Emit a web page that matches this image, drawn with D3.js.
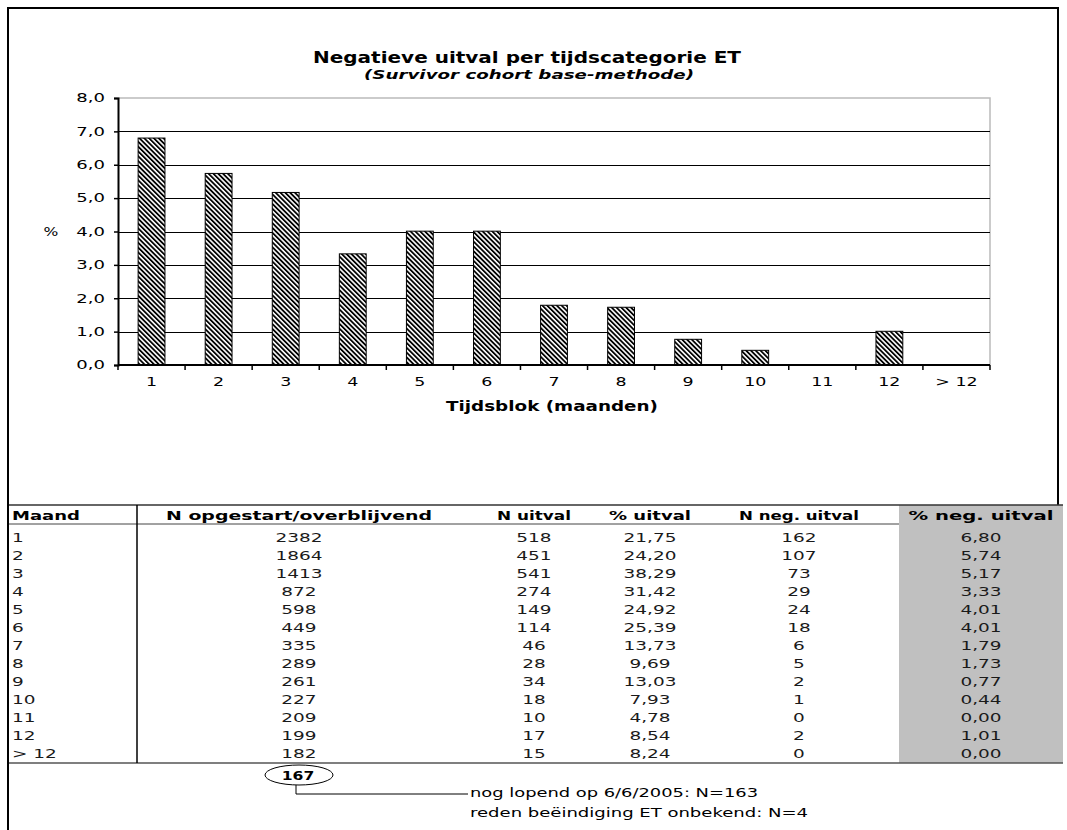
<!DOCTYPE html>
<html><head><meta charset="utf-8">
<script src="https://cdn.jsdelivr.net/npm/d3@7"></script>
<style>body{margin:0;background:#fff;} svg{display:block;font-family:"DejaVu Sans",sans-serif;}</style>
</head><body>
<script>
const months = ["1","2","3","4","5","6","7","8","9","10","11","12","> 12"];
const nStart = [2382,1864,1413,872,598,449,335,289,261,227,209,199,182];
const nUitval = [518,451,541,274,149,114,46,28,34,18,10,17,15];
const pctUitval = ["21,75","24,20","38,29","31,42","24,92","25,39","13,73","9,69","13,03","7,93","4,78","8,54","8,24"];
const nNeg = [162,107,73,29,24,18,6,5,2,1,0,2,0];
const pctNeg = [6.80,5.74,5.17,3.33,4.01,4.01,1.79,1.73,0.77,0.44,0.00,1.01,0.00];
const yTicks = [0,1,2,3,4,5,6,7,8];
const headers = ["Maand","N opgestart/overblijvend","N uitval","% uitval","N neg. uitval","% neg. uitval"];

const W=1067,H=830;
const svg=d3.select("body").append("svg").attr("width",W).attr("height",H);
const defs=svg.append("defs");
const pat=defs.append("pattern").attr("id","hatch").attr("patternUnits","userSpaceOnUse")
  .attr("width",3.4).attr("height",3.4).attr("patternTransform","rotate(-45)");
pat.append("rect").attr("width",3.4).attr("height",3.4).attr("fill","#fff");
pat.append("rect").attr("width",1.8).attr("height",3.4).attr("fill","#000");

function stretch(sel,f){sel.each(function(){const w=this.getComputedTextLength();d3.select(this).attr("textLength",w*f).attr("lengthAdjust","spacingAndGlyphs");});}
function setLen(sel,L){sel.attr("textLength",L).attr("lengthAdjust","spacingAndGlyphs");}

// frame
svg.append("path").attr("d","M8,830 L8,8 L1058,8 L1058,505").attr("fill","none").attr("stroke","#000").attr("stroke-width",2);

// titles
setLen(svg.append("text").attr("x",527).attr("y",63).attr("text-anchor","middle").attr("font-weight","bold").attr("font-size",16).text("Negatieve uitval per tijdscategorie ET"),428);
setLen(svg.append("text").attr("x",529).attr("y",79).attr("text-anchor","middle").attr("font-weight","bold").attr("font-style","italic").attr("font-size",13).text("(Survivor cohort base-methode)"),330);

const x=d3.scaleBand().domain(months).range([118,990]).paddingInner(0.6).paddingOuter(0.3);
const y=d3.scaleLinear().domain([0,8]).range([365,98]);

const g=svg.append("g");
g.append("path").attr("d",`M118,${y(8)} L990,${y(8)} L990,${y(0)}`).attr("fill","none").attr("stroke","#bbb").attr("stroke-width",1.5);
g.selectAll(".grid").data(yTicks.filter(d=>d>0&&d<8)).join("line")
  .attr("x1",118).attr("x2",990).attr("y1",d=>Math.round(y(d))+0.5).attr("y2",d=>Math.round(y(d))+0.5)
  .attr("stroke","#000").attr("stroke-width",1);
g.selectAll(".bar").data(pctNeg).join("rect")
  .attr("x",(d,i)=>x(months[i])).attr("width",x.bandwidth())
  .attr("y",d=>y(d)).attr("height",d=>y(0)-y(d))
  .attr("fill","url(#hatch)").attr("stroke",d=>d>0?"#000":"none").attr("stroke-width",1);

// y axis
const yAxis=d3.axisLeft(y).tickValues(yTicks).tickSize(4).tickPadding(9).tickFormat(d=>d3.format(".1f")(d).replace(".",","));
const ya=svg.append("g").attr("transform","translate(118,0)").call(yAxis);
ya.selectAll("text").attr("font-size",12).attr("font-family","'DejaVu Sans',sans-serif").attr("fill","#000");
stretch(ya.selectAll("text"),1.5);
ya.selectAll("line").attr("stroke","#000").attr("stroke-width",1.5);
ya.select(".domain").attr("stroke","#000").attr("stroke-width",2);
// x axis
const xa=svg.append("g").attr("transform",`translate(0,${y(0)})`);
xa.append("line").attr("x1",118).attr("x2",990).attr("stroke","#000").attr("stroke-width",2);
xa.selectAll(".xt").data(d3.range(months.length+1)).join("line")
  .attr("x1",i=>118+i*(990-118)/months.length).attr("x2",i=>118+i*(990-118)/months.length)
  .attr("y1",0).attr("y2",5).attr("stroke","#000").attr("stroke-width",1.5);
const xl=xa.selectAll(".xl").data(months).join("text")
  .attr("x",d=>x(d)+x.bandwidth()/2).attr("y",21).attr("text-anchor","middle")
  .attr("font-size",12).text(d=>d);
stretch(xl,1.45);
setLen(svg.append("text").attr("x",552).attr("y",411).attr("text-anchor","middle").attr("font-weight","bold").attr("font-size",14).text("Tijdsblok (maanden)"),212);
stretch(svg.append("text").attr("x",51).attr("y",236).attr("text-anchor","middle").attr("font-size",12).text("%"),1.3);

// table
const tTop=505, hdrBot=524, rowH=18, row0=537;
const tBot=763;
const cx=[12,299,534,650,799,981];
const hdrLen=[68,266,74,82,120,145];
svg.append("rect").attr("x",899).attr("y",tTop).attr("width",1063-899).attr("height",tBot-tTop).attr("fill","#c0c0c0");
svg.append("line").attr("x1",9).attr("x2",1063).attr("y1",tTop).attr("y2",tTop).attr("stroke","#333").attr("stroke-width",1.5);
svg.append("line").attr("x1",9).attr("x2",899).attr("y1",hdrBot).attr("y2",hdrBot).attr("stroke","#444").attr("stroke-width",1);
svg.append("line").attr("x1",9).attr("x2",1063).attr("y1",tBot).attr("y2",tBot).attr("stroke","#555").attr("stroke-width",1.5);
svg.append("line").attr("x1",137).attr("x2",137).attr("y1",tTop).attr("y2",tBot).attr("stroke","#000").attr("stroke-width",1.5);

svg.selectAll(".hdr").data(headers).join("text")
  .attr("x",(d,i)=>cx[i]).attr("y",520).attr("text-anchor",(d,i)=>i===0?"start":"middle")
  .attr("font-weight","bold").attr("font-size",13).text(d=>d)
  .attr("textLength",(d,i)=>hdrLen[i]).attr("lengthAdjust","spacingAndGlyphs");

const fmt2=d=>d3.format(".2f")(d).replace(".",",");
const rows=months.map((m,i)=>[m,nStart[i],nUitval[i],pctUitval[i],nNeg[i],fmt2(pctNeg[i])]);
rows.forEach((r,i)=>{
  const t=svg.append("g").selectAll("text").data(r).join("text")
    .attr("x",(d,j)=>cx[j]).attr("y",row0+i*rowH+5).attr("text-anchor",(d,j)=>j===0?"start":"middle")
    .attr("font-size",13).attr("fill","#1a1a1a").text(d=>d);
  stretch(t,1.42);
});

// annotation
svg.append("path").attr("d","M296,785 L296,794 L468,794").attr("fill","none").attr("stroke","#000").attr("stroke-width",1);
svg.append("ellipse").attr("cx",299).attr("cy",775).attr("rx",34).attr("ry",10).attr("fill","#fff").attr("stroke","#000").attr("stroke-width",1);
stretch(svg.append("text").attr("x",298).attr("y",780).attr("text-anchor","middle").attr("font-weight","bold").attr("font-size",13).text("167"),1.2);
setLen(svg.append("text").attr("x",470).attr("y",797).attr("font-size",13).text("nog lopend op 6/6/2005: N=163"),288);
setLen(svg.append("text").attr("x",470).attr("y",817).attr("font-size",13).text("reden beëindiging ET onbekend: N=4"),338);
</script>
</body></html>
